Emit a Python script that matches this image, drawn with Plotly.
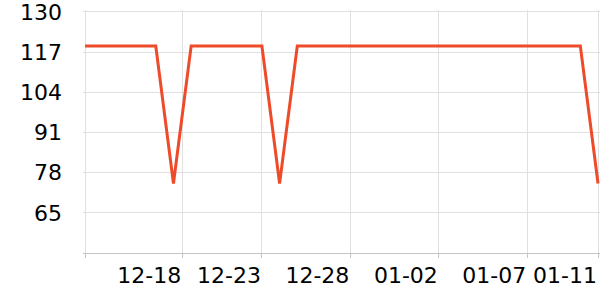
import plotly.graph_objects as go
import pandas as pd

dates = pd.date_range("2023-12-13", periods=30, freq="D").strftime("%Y-%m-%d").tolist()
values = [119, 119, 119, 119, 119, 74.5, 119, 119, 119, 119,
          119, 74.5, 119, 119, 119, 119, 119, 119, 119, 119,
          119, 119, 119, 119, 119, 119, 119, 119, 119, 74.5]

x_tickvals = ["2023-12-13", "2023-12-18 12:00", "2023-12-23", "2023-12-28", "2024-01-02", "2024-01-07", "2024-01-11"]
x_ticktext = ["", "12-18", "12-23", "12-28", "01-02", "01-07", "01-11"]
y_tickvals = [65, 78, 91, 104, 117, 130]

fig = go.Figure()
fig.add_trace(go.Scatter(
    x=dates, y=values, mode="lines",
    line=dict(color="#ee4b2b", width=3),
    hoverinfo="skip", cliponaxis=False,
))

fig.update_layout(
    width=600, height=300,
    margin=dict(l=83, r=0, t=8, b=47),
    paper_bgcolor="white", plot_bgcolor="white",
    showlegend=False,
    font=dict(family="DejaVu Sans", size=22, color="#000"),
)
fig.update_xaxes(
    type="date",
    range=["2023-12-12 21:17", "2024-01-11 02:40"],
    tickvals=x_tickvals, ticktext=x_ticktext,
    ticklabelposition="outside left",
    tickangle=0,
    showgrid=True, gridcolor="#e0e0e0", gridwidth=1,
    showline=True, linecolor="#c4c4c4", linewidth=1,
    zeroline=False,
    ticks="outside", ticklen=4, tickcolor="#c4c4c4",
    ticklabelstandoff=3,
)
fig.update_yaxes(
    range=[52, 130.64],
    tickvals=y_tickvals,
    showgrid=True, gridcolor="#e0e0e0", gridwidth=1,
    showline=False, zeroline=False,
    ticks="", ticklabelstandoff=20,
    ticklabeloverflow="allow",
)

fig.write_html("out.html")
